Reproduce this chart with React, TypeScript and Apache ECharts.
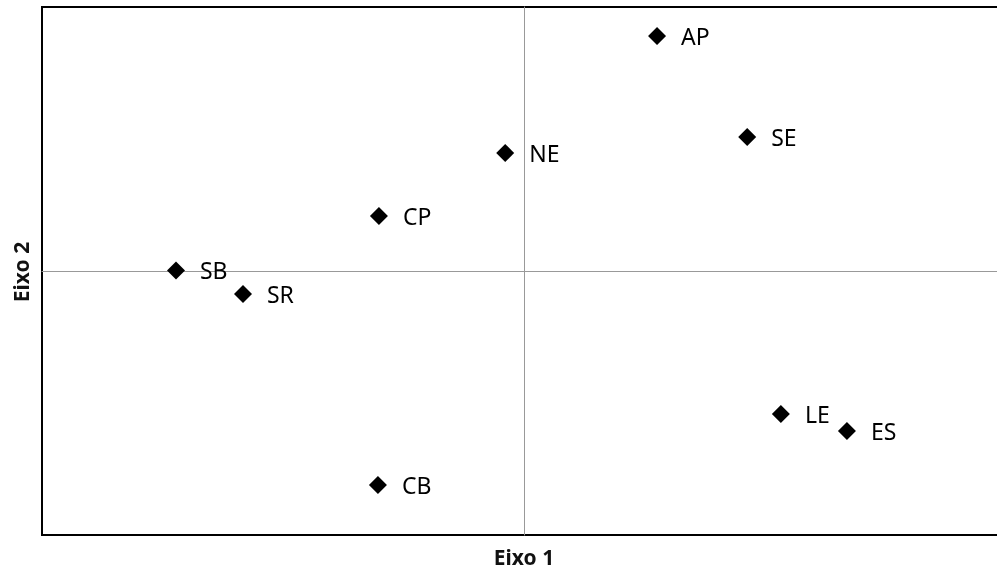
import React, { useEffect, useRef } from "react";
import * as echarts from "echarts";

const names = ["AP", "SE", "NE", "CP", "SB", "SR", "CB", "LE", "ES"];
const eixo1 = [0.276, 0.463, -0.039, -0.301, -0.722, -0.583, -0.303, 0.533, 0.670];
const eixo2 = [0.890, 0.508, 0.447, 0.208, 0.002, -0.087, -0.811, -0.542, -0.606];

export default function App() {
  const ref = useRef<HTMLDivElement>(null);
  useEffect(() => {
    if (!ref.current) return;
    const chart = echarts.init(ref.current, undefined, { renderer: "svg" });
    const data = names.map((n, i) => ({ name: n, value: [eixo1[i], eixo2[i]] }));
    chart.setOption({
      animation: false,
      grid: {
        left: 42,
        top: 7,
        width: 964,
        height: 528,
        show: true,
        borderColor: "#000",
        borderWidth: 2,
        backgroundColor: "#fff",
      },
      xAxis: {
        type: "value",
        min: -1,
        max: 1,
        axisLine: { show: true, onZero: true, lineStyle: { color: "#999", width: 1 } },
        axisTick: { show: false },
        axisLabel: { show: false },
        splitLine: { show: false },
      },
      yAxis: {
        type: "value",
        min: -1,
        max: 1,
        axisLine: { show: true, onZero: true, lineStyle: { color: "#999", width: 1 } },
        axisTick: { show: false },
        axisLabel: { show: false },
        splitLine: { show: false },
      },
      graphic: [
        {
          type: "text",
          x: 524,
          y: 557,
          style: {
            text: "Eixo 1",
            font: "bold 21px 'Noto Sans'",
            fill: "#111",
            align: "center",
            verticalAlign: "middle",
          },
        },
        {
          type: "text",
          x: 21,
          y: 272,
          rotation: Math.PI / 2,
          style: {
            text: "Eixo 2",
            font: "bold 21px 'Noto Sans'",
            fill: "#111",
            align: "center",
            verticalAlign: "middle",
          },
        },
      ],
      series: [
        {
          type: "scatter",
          symbol: "diamond",
          symbolSize: 18,
          itemStyle: { color: "#000", opacity: 1 },
          data,
          label: {
            show: true,
            position: "right",
            distance: 15,
            formatter: "{b}",
            color: "#000",
            fontSize: 23,
            fontFamily: "'Noto Sans'",
            offset: [0, 0],
          },
        },
      ],
    });
    return () => chart.dispose();
  }, []);
  return (
    <div
      ref={ref}
      style={{ position: "fixed", left: 0, top: 0, width: 1012, height: 572 }}
    />
  );
}
